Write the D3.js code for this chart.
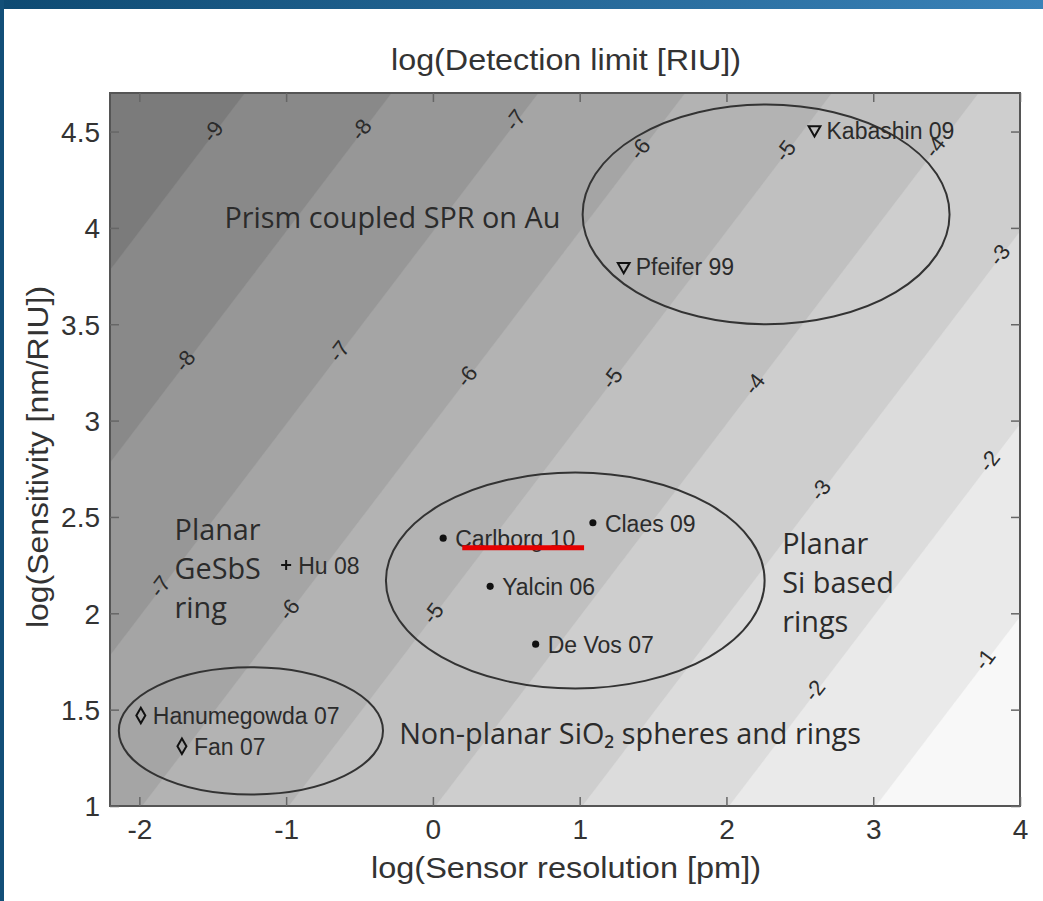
<!DOCTYPE html>
<html>
<head>
<meta charset="utf-8">
<script src="https://cdn.jsdelivr.net/npm/d3@7"></script>
<style>
  body { margin: 0; background: #fff; }
  svg { display: block; }
  .tick-label { font-family: "Liberation Sans", Arial, sans-serif; font-size: 28px; fill: #333; }
  .axis-title { font-family: "Liberation Sans", Arial, sans-serif; font-size: 29px; fill: #333; }
  .study { font-family: "Liberation Sans", Arial, sans-serif; font-size: 23px; fill: #2b2b2b; }
  .group { font-family: "Open Sans", "Noto Sans", sans-serif; font-size: 28.8px; fill: #2b2b2b; }
  .clabel { font-family: "Liberation Sans", Arial, sans-serif; font-size: 22px; fill: #2b2b2b; }
</style>
</head>
<body>
<svg width="1043" height="901"></svg>
<script>
// axis ranges and ticks
let xDomain = [-2.2, 4];
let yDomain = [1, 4.7];
let xTicks = [-2, -1, 0, 1, 2, 3, 4];
let yTicks = [1, 1.5, 2, 2.5, 3, 3.5, 4, 4.5];

// contour levels of log(detection limit)
let levels = [-10, -9, -8, -7, -6, -5, -4, -3, -2, -1];

// contour labels: level and x position where it sits
let labelLevel = [-9, -8, -7, -6, -5, -4, -8, -7, -6, -5, -4, -3, -3, -2, -7, -6, -5, -2, -1];
let labelX     = [-1.50, -0.49, 0.56, 1.41, 2.40, 3.42, -1.69, -0.64, 0.23, 1.22, 2.19, 3.86, 2.64, 3.79, -1.86, -0.98, 0.0, 2.60, 3.76];

// published sensors
let studyName   = ['Kabashin 09', 'Pfeifer 99', 'Hu 08', 'Carlborg 10', 'Claes 09', 'Yalcin 06', 'De Vos 07', 'Hanumegowda 07', 'Fan 07'];
let studyRes    = [2.6, 1.3, -1.0, 0.07, 1.09, 0.39, 0.70, -1.99, -1.71];
let studySens   = [4.51, 3.8, 2.25, 2.39, 2.47, 2.14, 1.84, 1.47, 1.31];
let studyMarker = ['tri', 'tri', 'plus', 'dot', 'dot', 'dot', 'dot', 'diamond', 'diamond'];

// grouping ellipses (centre, radii in axis units)
let ellCx = [2.27, 0.97, -1.24];
let ellCy = [4.07, 2.17, 1.39];
let ellRx = [1.25, 1.29, 0.90];
let ellRy = [0.57, 0.56, 0.33];

// group captions
let groupText = [['Prism coupled SPR on Au'], ['Planar', 'GeSbS', 'ring'], ['Planar', 'Si based', 'rings'], ['Non-planar SiO\u2082 spheres and rings']];
let groupX = [-1.42, -1.76, 2.38, -0.23];
let groupY = [4.0, 2.38, 2.31, 1.32];

let svg = d3.select('svg');

let pLeft = 110, pRight = 1020, pTop = 93, pBottom = 806;

let xScale = d3.scaleLinear().domain(xDomain).range([pLeft, pRight]);
let yScale = d3.scaleLinear().domain(yDomain).range([pBottom, pTop]);

// blue frame of the slide
let defs = svg.append('defs');
let grad = defs.append('linearGradient').attr('id', 'bar');
grad.append('stop').attr('offset', '0%').attr('stop-color', '#0e4a72');
grad.append('stop').attr('offset', '100%').attr('stop-color', '#3a82b8');
svg.append('rect').attr('x', 0).attr('y', 0).attr('width', 1043).attr('height', 9).attr('fill', 'url(#bar)');
svg.append('rect').attr('x', 0).attr('y', 0).attr('width', 4).attr('height', 901).attr('fill', '#124f78');

defs.append('clipPath').attr('id', 'plotclip')
    .append('rect').attr('x', pLeft).attr('y', pTop).attr('width', pRight - pLeft).attr('height', pBottom - pTop);

// filled contour bands of log(DL) = log(res) - 3 - log(S)
let step = 0.02;
let gx0 = -2.4, gy1 = 4.9;
let nx = Math.round((4.2 - gx0) / step) + 1;
let ny = Math.round((gy1 - 0.8) / step) + 1;
let grid = new Array(nx * ny);
for (let j = 0; j < ny; j++) {
  for (let i = 0; i < nx; i++) {
    let xv = gx0 + i * step, yv = gy1 - j * step;
    grid[i + j * nx] = xv - 3 - yv;
  }
}
let bands = d3.contours().size([nx, ny]).thresholds(levels)(grid);

let gray = d3.scaleLinear().domain([-10, -1]).range(['#7b7b7b', '#f8f8f8']);

let proj = d3.geoTransform({
  point: function (gx, gy) {
    this.stream.point(xScale(gx0 + gx * step), yScale(gy1 - gy * step));
  }
});
let path = d3.geoPath(proj);

let plot = svg.append('g').attr('clip-path', 'url(#plotclip)');
plot.selectAll('path.band')
    .data(bands)
    .enter()
    .append('path')
    .attr('class', 'band')
    .attr('d', path)
    .attr('fill', (d) => gray(d.value))
    .attr('stroke', (d) => gray(d.value))
    .attr('stroke-width', 0.5);

// contour labels, rotated along the lines
let angle = -Math.atan((yScale(0) - yScale(1)) / (xScale(1) - xScale(0))) * 180 / Math.PI;
plot.selectAll('text.clabel')
    .data(labelLevel)
    .enter()
    .append('text')
    .attr('class', 'clabel')
    .attr('text-anchor', 'middle')
    .attr('dominant-baseline', 'central')
    .attr('transform', (d, i) => {
      let xv = labelX[i];
      let yv = xv - 3 - d;
      return 'translate(' + xScale(xv) + ',' + yScale(yv) + ') rotate(' + angle + ')';
    })
    .text((d) => d);

// ellipses
plot.selectAll('ellipse')
    .data(ellCx)
    .enter()
    .append('ellipse')
    .attr('cx', (d) => xScale(d))
    .attr('cy', (d, i) => yScale(ellCy[i]))
    .attr('rx', (d, i) => xScale(ellRx[i]) - xScale(0))
    .attr('ry', (d, i) => yScale(0) - yScale(ellRy[i]))
    .attr('fill', 'none')
    .attr('stroke', '#333')
    .attr('stroke-width', 2);

// group captions
groupText.forEach((lines, i) => {
  let t = plot.append('text')
      .attr('class', 'group')
      .attr('x', xScale(groupX[i]))
      .attr('y', yScale(groupY[i]));
  lines.forEach((line, k) => {
    t.append('tspan')
     .attr('x', xScale(groupX[i]))
     .attr('dy', k === 0 ? 0 : 39)
     .text(line);
  });
});

// study markers
let markerPath = {
  tri: d3.symbol().type(d3.symbolTriangle).size(60)(),
  diamond: d3.symbol().type(d3.symbolDiamond).size(70)(),
  dot: d3.symbol().type(d3.symbolCircle).size(40)()
};
plot.selectAll('path.marker')
    .data(studyName)
    .enter()
    .append('path')
    .attr('class', 'marker')
    .attr('d', (d, i) => studyMarker[i] === 'plus'
        ? 'M-5,0H5M0,-5V5'
        : markerPath[studyMarker[i]])
    .attr('transform', (d, i) => 'translate(' + xScale(studyRes[i]) + ',' + yScale(studySens[i]) + ')' + (studyMarker[i] === 'tri' ? ' rotate(180)' : ''))
    .attr('fill', (d, i) => studyMarker[i] === 'dot' ? '#111' : 'none')
    .attr('stroke', '#111')
    .attr('stroke-width', (d, i) => studyMarker[i] === 'dot' ? 0 : 2);

plot.selectAll('text.study')
    .data(studyName)
    .enter()
    .append('text')
    .attr('class', 'study')
    .attr('x', (d, i) => xScale(studyRes[i]) + 12)
    .attr('y', (d, i) => yScale(studySens[i]) + 1)
    .attr('dominant-baseline', 'central')
    .text((d) => d);

// red underline annotation under Carlborg 10
svg.append('line')
   .attr('x1', xScale(0.2)).attr('x2', xScale(1.03))
   .attr('y1', yScale(2.34)).attr('y2', yScale(2.34))
   .attr('stroke', '#e60000')
   .attr('stroke-width', 5);

// axes: box with inward ticks on all four sides
svg.append('rect')
   .attr('x', pLeft).attr('y', pTop).attr('width', pRight - pLeft).attr('height', pBottom - pTop)
   .attr('fill', 'none').attr('stroke', '#555').attr('stroke-width', 2);

let xAxis = d3.axisBottom(xScale).tickValues(xTicks).tickSize(-9).tickFormat((d) => d);
let xAxisTop = d3.axisTop(xScale).tickValues(xTicks).tickSize(-9).tickFormat('');
let yAxis = d3.axisLeft(yScale).tickValues(yTicks).tickSize(-9).tickFormat((d) => d);
let yAxisRight = d3.axisRight(yScale).tickValues(yTicks).tickSize(-9).tickFormat('');

let gx = svg.append('g').attr('id', 'x-axis').attr('transform', 'translate(0,' + pBottom + ')').call(xAxis);
svg.append('g').attr('transform', 'translate(0,' + pTop + ')').call(xAxisTop);
let gy = svg.append('g').attr('id', 'y-axis').attr('transform', 'translate(' + pLeft + ',0)').call(yAxis);
svg.append('g').attr('transform', 'translate(' + pRight + ',0)').call(yAxisRight);

svg.selectAll('.domain').remove();
svg.selectAll('.tick line').attr('stroke', '#666').attr('stroke-width', 1.5);
gx.selectAll('.tick text').attr('class', 'tick-label').attr('y', 12).attr('dy', '0.75em');
gy.selectAll('.tick text').attr('class', 'tick-label').attr('x', -10).attr('dy', '0.35em');

// titles
svg.append('text').attr('class', 'axis-title')
   .attr('x', 566).attr('y', 70).attr('text-anchor', 'middle')
   .attr('textLength', 350).attr('lengthAdjust', 'spacingAndGlyphs')
   .text('log(Detection limit [RIU])');
svg.append('text').attr('class', 'axis-title')
   .attr('x', 566).attr('y', 878).attr('text-anchor', 'middle')
   .attr('textLength', 390).attr('lengthAdjust', 'spacingAndGlyphs')
   .text('log(Sensor resolution [pm])');
svg.append('text').attr('class', 'axis-title')
   .attr('transform', 'translate(48,' + 457 + ') rotate(-90)')
   .attr('text-anchor', 'middle')
   .attr('textLength', 342).attr('lengthAdjust', 'spacingAndGlyphs')
   .text('log(Sensitivity [nm/RIU])');
</script>
</body>
</html>
